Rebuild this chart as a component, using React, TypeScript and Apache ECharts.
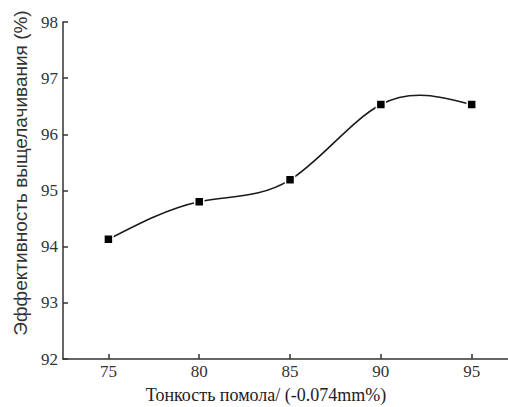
import React, { useEffect, useRef } from "react";
import * as echarts from "echarts";

const fineness = [75, 80, 85, 90, 95];
const efficiency = [94.13, 94.8, 95.19, 96.53, 96.53];
const xTicks = [75, 80, 85, 90, 95];
const xName = "Тонкость помола/ (-0.074mm%)";
const yName = "Эффективность выщелачивания (%)";

// natural cubic spline through pixel points -> SVG path data
function splinePath(pts: number[][]): string {
  const n = pts.length;
  if (n < 2) return "";
  const xs = pts.map((p) => p[0]);
  const ys = pts.map((p) => p[1]);
  const h: number[] = [];
  for (let i = 0; i < n - 1; i++) h.push(xs[i + 1] - xs[i]);
  const M = new Array(n).fill(0);
  const a: number[] = [], b: number[] = [], c: number[] = [], d: number[] = [];
  for (let i = 1; i < n - 1; i++) {
    a.push(h[i - 1]);
    b.push(2 * (h[i - 1] + h[i]));
    c.push(h[i]);
    d.push(6 * ((ys[i + 1] - ys[i]) / h[i] - (ys[i] - ys[i - 1]) / h[i - 1]));
  }
  const m = b.length;
  for (let i = 1; i < m; i++) {
    const w = a[i] / b[i - 1];
    b[i] -= w * c[i - 1];
    d[i] -= w * d[i - 1];
  }
  const sol = new Array(m).fill(0);
  for (let i = m - 1; i >= 0; i--) {
    sol[i] = (d[i] - (i < m - 1 ? c[i] * sol[i + 1] : 0)) / b[i];
  }
  for (let i = 0; i < m; i++) M[i + 1] = sol[i];
  let path = `M${xs[0]},${ys[0]}`;
  for (let i = 0; i < n - 1; i++) {
    const hi = h[i];
    const slope = (ys[i + 1] - ys[i]) / hi;
    const s0 = slope - (hi * (2 * M[i] + M[i + 1])) / 6;
    const s1 = slope + (hi * (M[i] + 2 * M[i + 1])) / 6;
    const c1x = xs[i] + hi / 3;
    const c1y = ys[i] + (s0 * hi) / 3;
    const c2x = xs[i + 1] - hi / 3;
    const c2y = ys[i + 1] - (s1 * hi) / 3;
    path += ` C${c1x},${c1y} ${c2x},${c2y} ${xs[i + 1]},${ys[i + 1]}`;
  }
  return path;
}

export default function App() {
  const ref = useRef<HTMLDivElement>(null);
  useEffect(() => {
    const chart = echarts.init(ref.current!, null, { renderer: "svg" });
    const axisColor = "#333";
    const points = fineness.map((x, i) => [x, efficiency[i]]);
    chart.setOption({
      animation: false,
      backgroundColor: "#fff",
      grid: { left: 63, right: 0, top: 22, bottom: 48 },
      xAxis: {
        type: "value",
        min: 72.5,
        max: 97,
        axisLine: { lineStyle: { color: axisColor, width: 1.5 } },
        axisTick: {
          inside: true,
          length: 5,
          customValues: xTicks,
          lineStyle: { color: axisColor, width: 1.5 },
        },
        axisLabel: {
          customValues: xTicks,
          margin: 4,
          color: "#333",
          fontFamily: "Liberation Serif",
          fontSize: 17,
        },
        splitLine: { show: false },
      },
      yAxis: {
        type: "value",
        min: 92,
        max: 98,
        interval: 1,
        axisLine: { show: true, lineStyle: { color: axisColor, width: 1.5 } },
        axisTick: { show: true, inside: true, length: 5, lineStyle: { color: axisColor, width: 1.5 } },
        axisLabel: {
          margin: 5,
          color: "#333",
          fontFamily: "Liberation Serif",
          fontSize: 17,
        },
        splitLine: { show: false },
      },
      graphic: [
        {
          type: "text",
          x: 266,
          y: 395,
          style: {
            text: xName,
            fill: "#222",
            font: "18px 'Liberation Serif'",
            align: "center",
            verticalAlign: "middle",
          },
        },
        {
          type: "text",
          x: 20,
          y: 173,
          rotation: Math.PI / 2,
          style: {
            text: yName,
            fill: "#333",
            font: "19px 'Liberation Sans'",
            align: "center",
            verticalAlign: "middle",
          },
        },
      ],
      series: [
        {
          type: "custom",
          data: points,
          renderItem: (params: any, api: any) => {
            if (params.dataIndex !== 0) return null;
            const px = points.map((p) => api.coord(p));
            return {
              type: "path",
              shape: { pathData: splinePath(px) },
              style: { stroke: "#1a1a1a", lineWidth: 1.6, fill: "none" },
            };
          },
          z: 2,
        },
        {
          type: "scatter",
          data: points,
          symbol: "rect",
          symbolSize: 9,
          itemStyle: { color: "#000", borderColor: "#fff", borderWidth: 1.5, opacity: 1 },
          z: 3,
        },
      ],
    });
    return () => chart.dispose();
  }, []);
  return <div ref={ref} style={{ width: 508, height: 407, position: "absolute", left: 0, top: 0 }} />;
}
